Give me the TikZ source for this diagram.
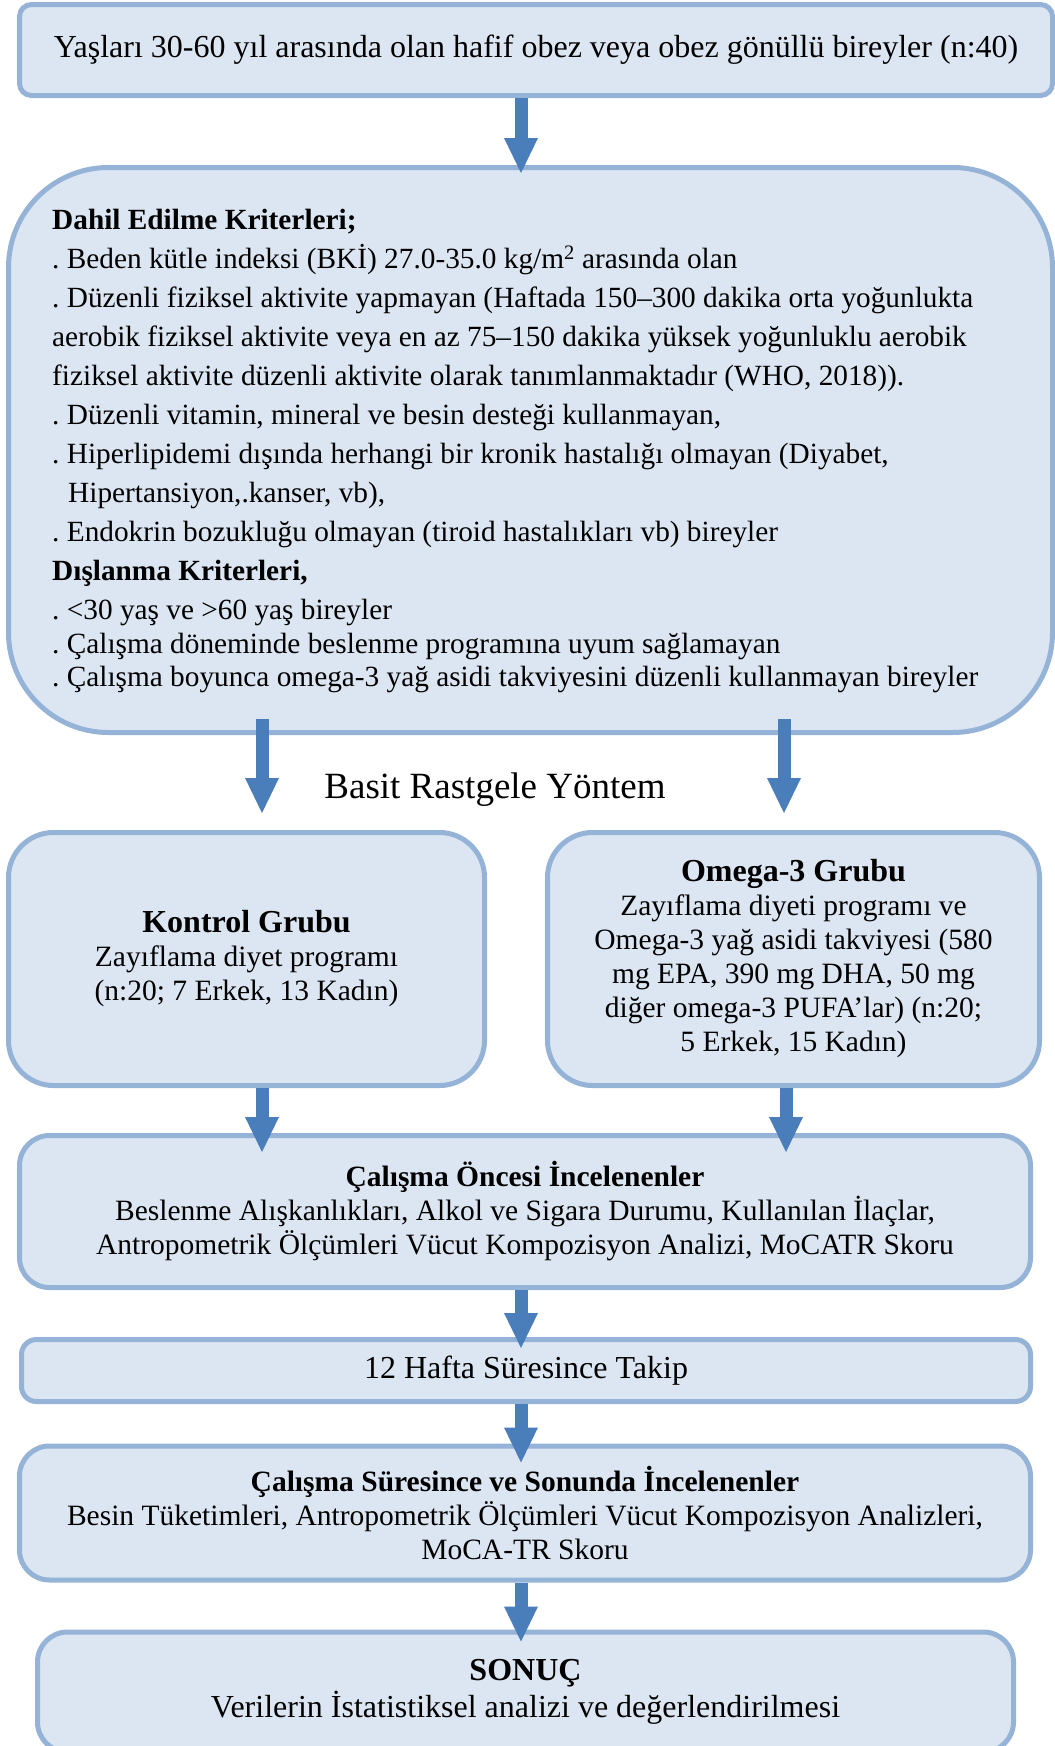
\documentclass[tikz,border=0pt]{standalone}
\usepackage{fontspec}
\setmainfont{Liberation Serif}
\usetikzlibrary{arrows.meta,calc}
\definecolor{boxfill}{HTML}{DCE6F2}
\definecolor{boxline}{HTML}{95B3D7}
\definecolor{arrowblue}{HTML}{4A7EBB}
\frenchspacing
\begin{document}
\begin{tikzpicture}[x=1pt,y=-1pt,
  box/.style={draw=boxline, fill=boxfill, line width=5pt, inner sep=0pt, align=center},
  body/.style={font=\fontsize{29.5}{34}\selectfont},
  flow/.style={draw=arrowblue, line width=13pt, -{Triangle[width=34pt,length=35pt,line width=0pt]}}]
\useasboundingbox (0,0) rectangle (1055,1746);
\clip (0,0) rectangle (1055,1746);
\fill[white] (0,0) rectangle (1055,1746);

\node[box, rounded corners=12pt, minimum width=1033pt, minimum height=91pt,
  font=\fontsize{32}{36}\selectfont] (b1) at (536,50)
  {Yaşları 30-60 yıl arasında olan hafif obez veya obez gönüllü bireyler (n:40)};

\node[box, rounded corners=100pt, minimum width=1044pt, minimum height=565pt] (b2) at (530.5,450) {};
\node[anchor=west, align=left, inner sep=0pt, font=\fontsize{29.3}{39}\selectfont\frenchspacing] (b2text) at (52,451)
  {\textbf{Dahil Edilme Kriterleri;}\\
   . Beden kütle indeksi (BKİ) 27.0-35.0 kg/m\textsuperscript{2} arasında olan\\
   . Düzenli fiziksel aktivite yapmayan (Haftada 150–300 dakika orta yoğunlukta\\
   aerobik fiziksel aktivite veya en az 75–150 dakika yüksek yoğunluklu aerobik\\
   fiziksel aktivite düzenli aktivite olarak tanımlanmaktadır (WHO, 2018)).\\
   . Düzenli vitamin, mineral ve besin desteği kullanmayan,\\
   . Hiperlipidemi dışında herhangi bir kronik hastalığı olmayan (Diyabet,\\
   \hspace*{16pt}Hipertansiyon,.kanser, vb),\\
   . Endokrin bozukluğu olmayan (tiroid hastalıkları vb) bireyler\\
   \textbf{Dışlanma Kriterleri,}\\
   . <30 yaş ve >60 yaş bireyler\\[-5.5pt]
   . Çalışma döneminde beslenme programına uyum sağlamayan\\[-5.5pt]
   . Çalışma boyunca omega-3 yağ asidi takviyesini düzenli kullanmayan bireyler};

\node[font=\fontsize{37}{40}\selectfont] (basit) at (495,790) {Basit Rastgele Yöntem};

\node[box, body, rounded corners=45pt, minimum width=476pt, minimum height=253pt] (kontrol) at (246.5,959)
  {{\fontsize{32}{34}\selectfont\bfseries Kontrol Grubu}\\Zayıflama diyet programı\\(n:20; 7 Erkek, 13 Kadın)};

\node[box, body, rounded corners=45pt, minimum width=492pt, minimum height=253pt] (omega) at (793.5,959)
  {{\fontsize{32}{34}\selectfont\bfseries Omega-3 Grubu}\\Zayıflama diyeti programı ve\\Omega-3 yağ asidi takviyesi (580\\mg EPA, 390 mg DHA, 50 mg\\diğer omega-3 PUFA’lar) (n:20;\\5 Erkek, 15 Kadın)};

\node[box, body, rounded corners=30pt, minimum width=1011pt, minimum height=152pt] (b5) at (525,1211.5)
  {\textbf{Çalışma Öncesi İncelenenler}\\Beslenme Alışkanlıkları, Alkol ve Sigara Durumu, Kullanılan İlaçlar,\\Antropometrik Ölçümleri Vücut Kompozisyon Analizi, MoCATR Skoru};

\node[box, font=\fontsize{32}{36}\selectfont, rounded corners=15pt, minimum width=1009pt, minimum height=62pt] (b6) at (526,1370.5)
  {12 Hafta Süresince Takip};

\node[box, body, rounded corners=30pt, minimum width=1011pt, minimum height=134pt] (b7) at (525,1513)
  {\textbf{Çalışma Süresince ve Sonunda İncelenenler}\\Besin Tüketimleri, Antropometrik Ölçümleri Vücut Kompozisyon Analizleri,\\MoCA-TR Skoru};

\node[box, font=\fontsize{32}{37}\selectfont, rounded corners=30pt, minimum width=976pt, minimum height=120pt] (b8) at (525.5,1692)
  {{\bfseries SONUÇ}\\Verilerin İstatistiksel analizi ve değerlendirilmesi};

\coordinate (xm) at (521,0);
\coordinate (xl) at (262,0);
\coordinate (xr) at (784,0);
\coordinate (xr2) at (786,0);

\draw[flow] (b1.south -| xm) -- ($(b2.north -| xm)+(0,8)$);
\draw[flow] ($(b2.south -| xl)+(0,-16)$) -- ($(kontrol.north -| xl)+(0,-17)$);
\draw[flow] ($(b2.south -| xr)+(0,-16)$) -- ($(omega.north -| xr)+(0,-17)$);
\draw[flow] (kontrol.south -| xl) -- ($(b5.north -| xl)+(0,19)$);
\draw[flow] (omega.south -| xr2) -- ($(b5.north -| xr2)+(0,19)$);
\draw[flow] (b5.south -| xm) -- ($(b6.north -| xm)+(0,11)$);
\draw[flow] (b6.south -| xm) -- ($(b7.north -| xm)+(0,19)$);
\draw[flow] (b7.south -| xm) -- ($(b8.north -| xm)+(0,12)$);
\end{tikzpicture}
\end{document}
